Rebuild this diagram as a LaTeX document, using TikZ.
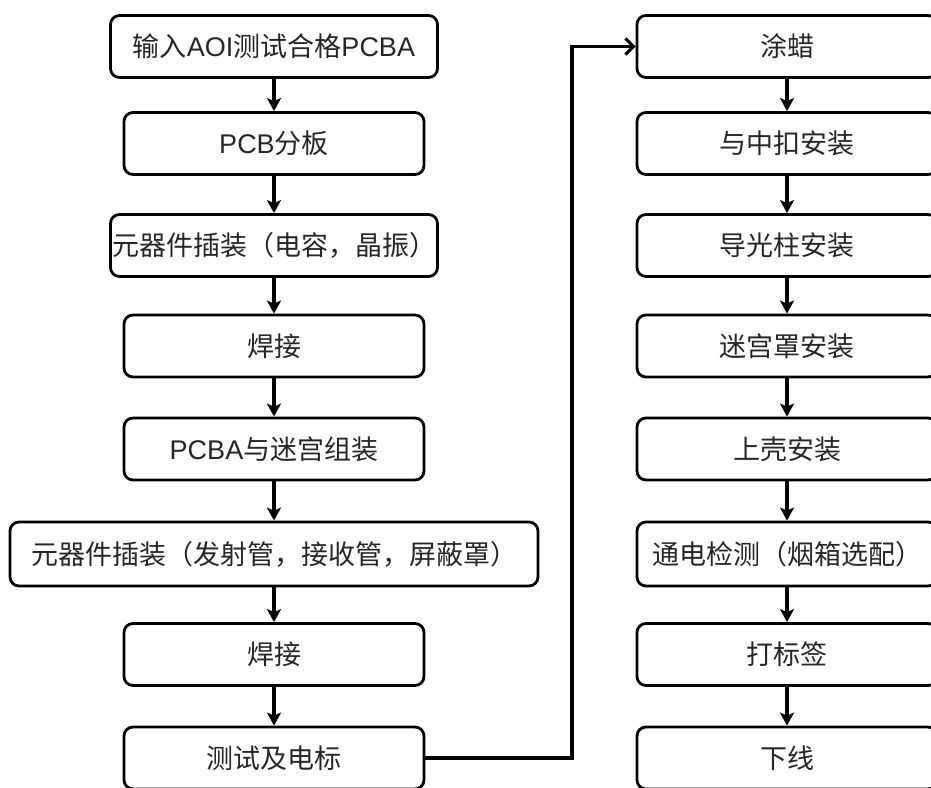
\documentclass[tikz,border=0pt]{standalone}
\usepackage{fontspec}
\setmainfont{Liberation Sans}
\newfontfamily\cjk{Noto Sans CJK SC}
\newcommand\zh[1]{{\cjk #1}}
\usetikzlibrary{arrows.meta}
\tikzset{
  stepbox/.style={draw=black, line width=2.8pt, rounded corners=9pt, minimum height=62pt,
    inner sep=0pt, align=center, text=black!85, font=\fontsize{27}{31}\selectfont},
  narrow/.style={stepbox, minimum width=300pt},
  wide/.style={stepbox, minimum width=327pt},
  flow/.style={line width=3.2pt, -{Stealth[length=13pt,width=14pt,inset=3pt]}},
  jump/.style={line width=3.2pt, -{Straight Barb[length=8pt,width=16pt,line width=3pt]}}
}
\begin{document}
\begin{tikzpicture}[x=1pt,y=-1pt]
\useasboundingbox (0,0) rectangle (931,787);
% left column
\node[wide]   (a1) at (274,46.5) {\zh{输入}AOI\zh{测试合格}PCBA};
\node[narrow] (a2) at (274,143.5) {PCB\zh{分板}};
\node[wide]   (a3) at (274,245.5) {\zh{元器件插装（电容，晶振）}};
\node[narrow] (a4) at (274,346) {\zh{焊接}};
\node[narrow] (a5) at (274,449) {PCBA\zh{与迷宫组装}};
\node[stepbox, minimum width=528pt, minimum height=64pt] (a6) at (274,554) {\zh{元器件插装（发射管，接收管，屏蔽罩）}};
\node[narrow] (a7) at (274,654.5) {\zh{焊接}};
\node[narrow] (a8) at (274,758) {\zh{测试及电标}};
% right column
\node[narrow] (b1) at (787,46.5) {\zh{涂蜡}};
\node[narrow] (b2) at (787,143.5) {\zh{与中扣安装}};
\node[narrow] (b3) at (787,245.5) {\zh{导光柱安装}};
\node[narrow] (b4) at (787,346) {\zh{迷宫罩安装}};
\node[narrow] (b5) at (787,449) {\zh{上壳安装}};
\node[narrow, minimum height=64pt] (b6) at (787,554) {\zh{通电检测（烟箱选配）}};
\node[narrow] (b7) at (787,654.5) {\zh{打标签}};
\node[narrow] (b8) at (787,758) {\zh{下线}};
% connectors
\foreach \p/\q in {a1/a2,a2/a3,a3/a4,a4/a5,a5/a6,a6/a7,a7/a8,b1/b2,b2/b3,b3/b4,b4/b5,b5/b6,b6/b7,b7/b8}
  \draw[flow] (\p.south) -- (\q.north);
\coordinate (t1) at (572,758);
\coordinate (t2) at (572,46.5);
\draw[jump] (a8.east) -- (t1) -- (t2) -- (b1.west);
\end{tikzpicture}
\end{document}
